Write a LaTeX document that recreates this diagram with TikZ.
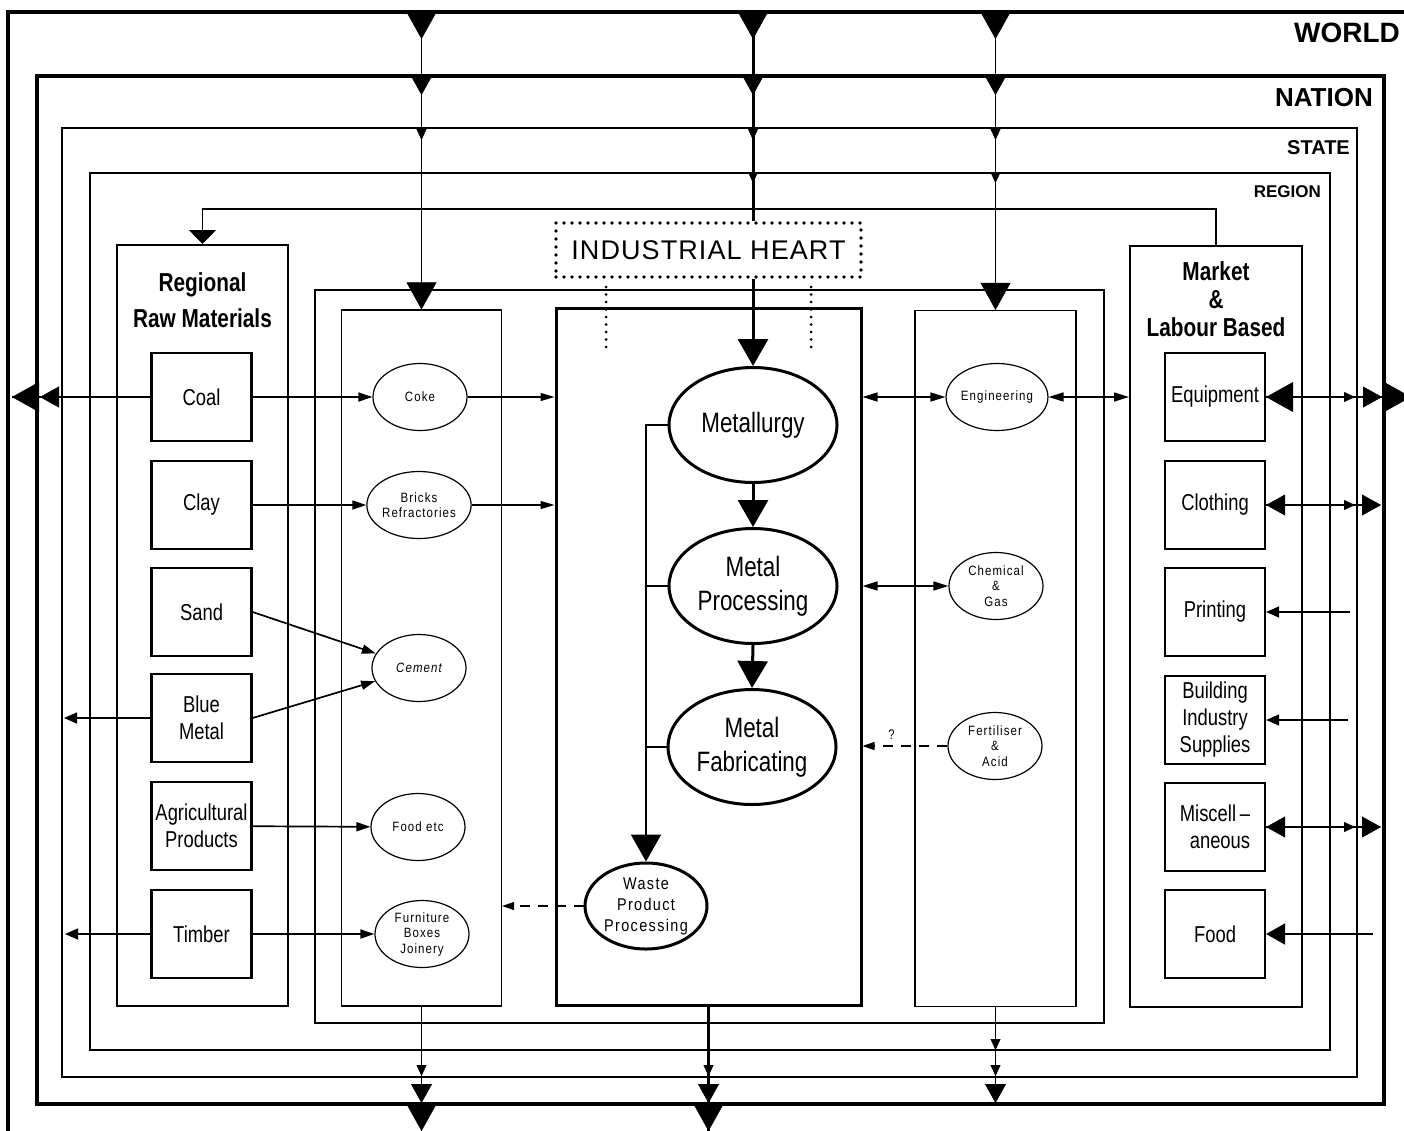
\documentclass[tikz,border=0pt]{standalone}
\usepackage{fontspec}
\setmainfont{Liberation Sans}
\newfontfamily\condfont{Liberation Sans}[FakeStretch=0.8]
\newfontfamily\ovalfont{Liberation Sans}[FakeStretch=0.85,LetterSpace=8]
\newfontfamily\widefont{Liberation Sans}[LetterSpace=4]
\usepackage{tikz}
\usetikzlibrary{
    arrows.meta,
    calc,
    positioning,
    shapes.geometric
}

\tikzset{
    level/.style={anchor=base east, inner sep=0pt},
    holder/.style={draw, line width=2pt, inner sep=0pt},
    column/.style={draw, line width=1.2pt, inner sep=0pt, minimum height=696pt},
    item/.style={draw, line width=2.2pt, minimum width=100pt, minimum height=88pt,
        inner sep=0pt, align=center, font=\condfont\fontsize{23}{27}\selectfont},
    oval/.style={draw, ellipse, line width=1.2pt, minimum width=94pt, minimum height=67pt,
        inner sep=0pt, align=center, font=\ovalfont\fontsize{13.5}{15.5}\selectfont},
    heart/.style={draw, ellipse, line width=3pt, minimum width=168pt, minimum height=115pt,
        inner sep=0pt, align=center, font=\condfont\fontsize{28}{34}\selectfont},
    title/.style={align=center, inner sep=0pt},
    dotbox/.style={draw, line width=3.6pt, line cap=round, dash pattern=on 0pt off 8pt,
        minimum width=305pt, minimum height=54pt, inner sep=0pt,
        font=\widefont\fontsize{27}{30}\selectfont},
    dotleg/.style={line width=3pt, line cap=round, dash pattern=on 0pt off 7.5pt},
    flow/.style={line width=1.7pt, -{Triangle[length=14pt,width=9pt]}},
    thinflow/.style={line width=1.1pt, -{Triangle[length=14pt,width=8pt]}},
    dflow/.style={line width=1.5pt, {Triangle[length=15pt,width=9pt]}-{Triangle[length=15pt,width=9pt]}},
    dashflow/.style={line width=1.1pt, dash pattern=on 10pt off 8pt, -{Triangle[length=12pt,width=8pt]}},
    bigtip/.style={-{Triangle[length=27pt,width=30pt]}},
    midtip/.style={-{Triangle[length=19pt,width=21pt]}},
    smalltip/.style={-{Triangle[length=11pt,width=10pt]}},
    fbtip/.style={-{Triangle[length=14pt,width=27pt]}}
}

\begin{document}
\begin{tikzpicture}[x=1pt,y=-1pt]
\useasboundingbox (0,0) rectangle (1404,1130);

% Frames: world, nation, state, region
\draw[line width=4pt] (8,1135) -- (8,12) -- (1410,12);
\draw[line width=3.2pt] (37,76) rectangle (1384,1104);
\draw[line width=2.4pt] (62,128) rectangle (1357,1077);
\draw[line width=1.8pt] (90,173) rectangle (1330,1050);
\draw[line width=1.2pt] (315,290) rectangle (1104,1023);

\node[level, font=\bfseries\fontsize{28}{30}\selectfont] (world) at (1400,42) {WORLD};
\node[level, font=\bfseries\fontsize{26}{28}\selectfont] (nation) at (1373,106) {NATION};
\node[level, font=\bfseries\fontsize{20}{22}\selectfont] (state) at (1350,154) {STATE};
\node[level, font=\bfseries\fontsize{17}{19}\selectfont] (region) at (1321,197) {REGION};

% Columns
\node[holder, minimum width=171pt, minimum height=761pt] (raw) at (202.5,625.5) {};
\node[column, minimum width=160pt] (col2) at (421.5,658) {};
\node[holder, line width=3pt, minimum width=305pt, minimum height=697pt] (heartbox) at (708.5,656.5) {};
\node[column, minimum width=161pt] (col4) at (995.5,658.5) {};
\node[holder, minimum width=172pt, minimum height=761pt] (market) at (1216,626.5) {};
\node[dotbox] (ihead) at (708.5,250) {INDUSTRIAL HEART};

\node[title, font=\condfont\bfseries\fontsize{26}{36}\selectfont] (rawtitle) at (202.5,300) {Regional\\Raw Materials};
\node[title, font=\condfont\bfseries\fontsize{26}{28}\selectfont] (mkttitle) at (1216,299) {Market\\\&\\Labour Based};

% Raw materials and market items
\foreach \name/\txt/\y in {coal/Coal/397, clay/Clay/505, sand/Sand/612,
    blue/{Blue\\Metal}/718, agri/{Agricultural\\Products}/826, timber/Timber/934}
    \node[item] (\name) at (201.5,\y) {\txt};
\foreach \name/\txt/\y in {equip/Equipment/397, cloth/Clothing/505, print/Printing/612,
    build/{Building\\Industry\\Supplies}/720, mfood/Food/934}
    \node[item] (\name) at (1215,\y) {\txt};
\node[item, align=right] (misc) at (1215,827) {Miscell\,\textendash\\aneous};

% Ovals
\node[oval] (coke) at (420,397) {Coke};
\node[oval] (bricks) at (419,505) {Bricks\\Refractories};
\node[oval, font=\ovalfont\itshape\fontsize{13.5}{15.5}\selectfont] (cement) at (419,668) {Cement};
\node[oval] (foodetc) at (418,827) {Food etc};
\node[oval] (furn) at (422,934) {Furniture\\Boxes\\Joinery};
\node[oval] (eng) at (997,397) {Engineering};
\node[oval] (chem) at (996,586) {Chemical\\\&\\Gas};
\node[oval] (fert) at (995,746) {Fertiliser\\\&\\Acid};

% Industrial heart
\node[heart] (metal) at (753,425) {Metallurgy};
\node[heart] (proc) at (753,586) {Metal\\Processing};
\node[heart] (fab) at (752,747) {Metal\\Fabricating};
\node[heart, minimum width=122pt, minimum height=86pt, font=\ovalfont\fontsize{17}{21}\selectfont] (waste) at (646,906) {Waste\\Product\\Processing};

% Inflow from above
\coordinate (topA) at (421.5,12);
\coordinate (topB) at (753,12);
\coordinate (topC) at (995.5,12);
\draw[line width=1.5pt] (topA) -- (col2.north);
\draw[line width=3pt] (topB) -- (topB |- ihead.north);
\draw[line width=1.5pt] (topC) -- (col4.north);
\foreach \x in {421.5,753,995.5} {
    \draw[bigtip] (\x,12) -- (\x,39);
    \draw[midtip] (\x,76) -- (\x,95);
    \draw[smalltip] (\x,128) -- (\x,140);
}
\foreach \x in {753,995.5}
    \draw[smalltip] (\x,173) -- (\x,183);
\draw[bigtip] ($(col2.north)+(0,-25)$) -- (col2.north);
\draw[bigtip] ($(col4.north)+(0,-25)$) -- (col4.north);

% Feedback to raw materials and market
\coordinate (fb) at (753,209);
\draw[line width=1.5pt, fbtip] (fb) -| (raw.north);
\draw[line width=1.5pt] (fb) -| (market.north);

% Dotted legs
\draw[dotleg] (606,287) -- (606,350);
\draw[dotleg] (811,287) -- (811,350);

% Heart chain
\draw[line width=3pt, bigtip] (metal.north |- ihead.south) -- (metal.north);
\draw[line width=3pt, bigtip] (metal.south) -- (proc.north);
\draw[line width=3pt, bigtip] (proc.south) -- (fab.north);
\draw[line width=2pt, bigtip] (metal.west) -| (waste.north);
\draw[line width=2pt] (proc.west) -- (proc.west -| waste.north);
\draw[line width=2pt] (fab.west) -- (fab.west -| waste.north);
\draw[dashflow] (waste) -- (waste -| col2.east);

% Raw materials to products
\draw[flow] (coal) -- (coke);
\draw[flow] (clay) -- (bricks);
\draw[flow] (sand.east) -- (cement);
\draw[flow] (blue.east) -- (cement);
\draw[flow] (agri) -- (foodetc);
\draw[flow] (timber) -- (furn);
\draw[thinflow] (coke) -- (coke -| heartbox.west);
\draw[thinflow] (bricks) -- (bricks -| heartbox.west);

% Heart and chemical side
\draw[dflow] (eng -| heartbox.east) -- (eng);
\draw[dflow] (chem -| heartbox.east) -- (chem);
\draw[dashflow] (fert) -- (fert -| heartbox.east) node[pos=0.66, above=3pt, font=\condfont\fontsize{14}{16}\selectfont] (qmark) {?};
\draw[dflow] (eng) -- (eng -| market.west);

% Out to the left
\coordinate (coalout) at (12,397);
\coordinate (blueout) at (64,718);
\coordinate (timberout) at (65,934);
\draw[line width=1.8pt] (coal) -- (coalout);
\draw[midtip] (57,397) -- (40,397);
\draw[bigtip] (37,397) -- (coalout);
\draw[line width=1.6pt, -{Triangle[length=13pt,width=11pt]}] (blue) -- (blueout);
\draw[line width=1.6pt, -{Triangle[length=13pt,width=11pt]}] (timber) -- (timberout);

% Market exchange on the right
\coordinate (equipout) at (1411,397);
\draw[line width=1.5pt] (equip) -- (equipout);
\draw[bigtip] (1296,397) -- (equip.east);
\draw[smalltip] (1344,397) -- (1355,397);
\draw[midtip] (1363,397) -- (1382,397);
\draw[bigtip] (1384,397) -- (equipout);
\foreach \name/\y in {cloth/505, misc/827} {
    \draw[line width=1.5pt] (\name) -- (1380,\y);
    \draw[midtip] (1287,\y) -- (\name.east);
    \draw[smalltip] (1344,\y) -- (1355,\y);
    \draw[midtip] (1362,\y) -- (1381,\y);
}
\coordinate (printin) at (1350,612);
\coordinate (buildin) at (1348,720);
\coordinate (foodin) at (1373,934);
\draw[line width=1.5pt, -{Triangle[length=13pt,width=11pt]}] (printin) -- (print);
\draw[line width=1.5pt, -{Triangle[length=13pt,width=11pt]}] (buildin) -- (build);
\draw[line width=1.8pt, midtip] (foodin) -- (mfood);

% Outflow below
\coordinate (botA) at (421.5,1135);
\coordinate (botB) at (708.5,1135);
\coordinate (botC) at (995.5,1104);
\draw[line width=1.5pt] (col2) -- (botA);
\draw[line width=3pt] (heartbox) -- (botB);
\draw[line width=1.5pt] (col4) -- (botC);
\foreach \x in {421.5,708.5,995.5} {
    \draw[smalltip] (\x,1065) -- (\x,1076);
    \draw[midtip] (\x,1084) -- (\x,1103);
}
\draw[smalltip] (995.5,1039) -- (995.5,1050);
\draw[bigtip] (421.5,1104) -- (421.5,1131);
\draw[bigtip] (708.5,1104) -- (708.5,1131);

\end{tikzpicture}
\end{document}
